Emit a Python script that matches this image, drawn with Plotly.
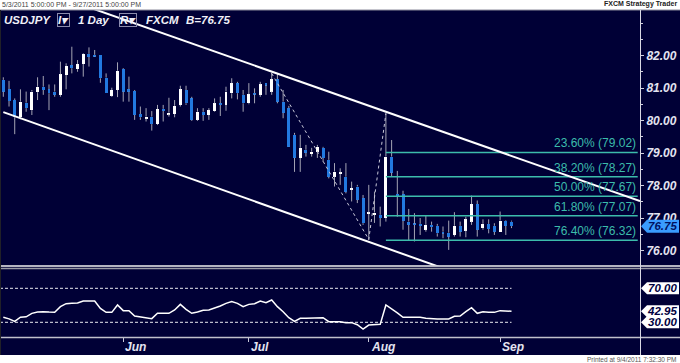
import plotly.graph_objects as go

W, H = 680, 363

# ---------------- data ----------------
opens = [81.25, 80.96, 80.63, 80.10, 80.55, 80.32, 80.87, 81.04, 80.96, 80.89,
         80.79, 81.40, 81.70, 81.58, 81.74, 82.05, 82.02, 82.02, 81.32, 80.76,
         80.94, 81.58, 80.96, 80.91, 80.20, 80.06, 80.12, 79.89, 80.36, 80.20,
         80.20, 80.48, 80.94, 80.68, 80.02, 80.27, 80.17, 80.29, 80.53, 80.48,
         80.84, 81.15, 80.79, 80.53, 80.84, 80.79, 81.15, 80.89, 81.27, 80.58,
         80.38, 79.56, 78.85, 79.10, 78.97, 79.03, 79.16, 78.79, 78.27, 78.36,
         78.27, 77.87, 77.97, 77.61, 77.13, 77.10, 77.10, 77.00, 78.89, 77.74,
         77.73, 76.89, 76.82, 76.82, 76.64, 76.79, 76.76, 76.58, 76.55, 76.48,
         76.76, 76.61, 76.89, 77.43, 76.69, 76.82, 76.76, 76.58, 76.92, 76.89]
highs = [81.33, 81.22, 80.68, 80.96, 80.89, 80.94, 81.33, 81.37, 81.11, 81.11,
         81.81, 81.76, 82.27, 81.86, 82.07, 82.25, 82.17, 82.02, 81.45, 81.01,
         81.79, 81.61, 81.35, 80.94, 80.43, 80.38, 80.29, 80.48, 80.48, 80.70,
         80.63, 81.07, 81.07, 80.73, 80.38, 80.38, 80.38, 80.68, 80.73, 81.04,
         81.30, 81.19, 80.94, 81.15, 80.99, 81.19, 81.15, 81.47, 81.43, 80.94,
         80.45, 79.62, 79.56, 79.25, 79.16, 79.25, 79.19, 79.04, 78.69, 78.53,
         78.69, 78.12, 78.02, 77.71, 78.02, 77.81, 77.35, 80.22, 79.40, 78.45,
         77.84, 77.28, 77.15, 77.00, 77.07, 76.89, 76.82, 76.74, 76.92, 77.18,
         76.89, 77.04, 77.69, 77.54, 76.96, 76.96, 76.84, 77.20, 76.94, 76.92]
lows = [80.73, 80.43, 79.58, 80.04, 80.27, 80.17, 80.63, 80.79, 80.32, 80.73,
        80.73, 80.96, 81.45, 81.50, 81.35, 81.66, 81.96, 81.16, 80.84, 80.73,
        80.72, 80.58, 80.58, 80.02, 80.02, 79.97, 79.69, 79.86, 79.97, 80.12,
        80.10, 80.43, 80.48, 79.99, 79.99, 79.99, 80.02, 80.27, 80.14, 80.30,
        80.68, 80.65, 80.27, 80.50, 80.53, 80.73, 80.79, 80.79, 80.53, 80.07,
        79.19, 78.42, 78.42, 78.89, 78.89, 78.85, 78.73, 78.22, 77.97, 78.02,
        77.76, 77.51, 77.46, 76.79, 76.33, 76.85, 76.74, 76.89, 78.27, 77.04,
        76.64, 76.30, 76.28, 76.48, 76.58, 76.58, 76.43, 76.38, 76.02, 76.43,
        76.43, 76.41, 76.79, 76.43, 76.64, 76.53, 76.48, 76.58, 76.48, 76.69]
closes = [80.89, 80.60, 80.10, 80.58, 80.38, 80.89, 81.04, 80.94, 80.84, 80.79,
          81.42, 81.68, 81.61, 81.74, 82.05, 81.96, 81.98, 81.30, 80.84, 80.94,
          81.53, 80.89, 80.89, 80.17, 80.10, 80.12, 79.89, 80.35, 80.30, 80.24,
          80.45, 80.96, 80.53, 80.02, 80.27, 80.17, 80.32, 80.53, 80.48, 80.89,
          81.15, 80.84, 80.53, 80.81, 80.81, 81.11, 81.09, 81.27, 80.58, 80.24,
          79.20, 78.85, 79.16, 79.01, 79.04, 79.19, 78.85, 78.27, 78.43, 78.40,
          77.81, 77.92, 77.56, 76.84, 77.17, 77.17, 77.00, 78.89, 78.40, 77.68,
          76.92, 76.79, 76.79, 76.76, 76.79, 76.72, 76.53, 76.53, 76.43, 76.76,
          76.58, 76.96, 77.43, 76.64, 76.82, 76.66, 76.58, 76.92, 76.76, 76.75]
rsi = [36, 34, 31, 36, 36.5, 40.5, 42, 42.5, 42, 41.7,
       48.4, 51.9, 52.3, 52.7, 55.1, 55.1, 55.1, 46.4, 41.7, 41.7,
       50.4, 43.7, 43.7, 37.4, 36.2, 35.4, 34.3, 40.6, 40.6, 40.6,
       44.5, 51.1, 45.3, 40.6, 42.1, 44.1, 44.5, 46.4, 49.2, 52.3,
       54.3, 52.3, 48.4, 51.1, 51.9, 55.1, 53.1, 56.2, 48.4, 42.5,
       35.4, 31.1, 34.7, 34.7, 34.7, 34.7, 35.4, 30.7, 30.7, 30.7,
       29.6, 29.6, 27.2, 22.1, 26.8, 27.2, 27.6, 50.4, 46.0, 41.0,
       35.8, 35.8, 35.8, 35.8, 34.7, 33.9, 33.9, 33.9, 33.9, 37.0,
       37.4, 42.5, 47.2, 40.6, 42.5, 41.7, 41.7, 43.7, 43.7, 42.95]

month_labels = ["Jun", "Jul", "Aug", "Sep"]
month_idx = [21, 43, 64, 87]          # trading-day index of 1st session of month
price_ticks = [76, 77, 78, 79, 80, 81, 82]
fib_pct = ["23.60%", "38.20%", "50.00%", "61.80%", "76.40%"]
fib_levels = [79.02, 78.27, 77.67, 77.07, 76.32]
fib_start_idx = 67
zigzag_idx = [47, 64, 67]
zigzag_price = [81.45, 76.34, 80.22]
upper_trend_idx = [0, 111.5]
upper_trend_price = [84.41, 77.52]
lower_trend_idx = [0, 80]
lower_trend_price = [80.26, 75.27]
rsi_levels = [70, 30]
last_price = 76.75
last_rsi = rsi[-1]

# ---------------- style ----------------
NAVY = "#000036"
BLUE = "#2279e0"
WICK = "#a4a4b4"
TEAL = "#3cbcab"
AXTXT = "#e4e4f0"
FONT = "Liberation Sans, Arial, sans-serif"

def fx(px):
    return px / W

def fy(py):
    return 1 - py / H

xr = [-0.58, 111.5]
yr = [75.54, 83.40]
y2r = [12.7, 93.3]
ydom = [fy(265.5), fy(10)]
y2dom = [fy(337), fy(268.5)]
xdom = [0, fx(640)]
ppu_y = (265.5 - 10) / (yr[1] - yr[0])
ppu_y2 = (337 - 268.5) / (y2r[1] - y2r[0])

n = len(opens)
idx = list(range(n))

fig = go.Figure()

# wicks (upper and lower segments)
wx, wy = [], []
for i in idx:
    top = max(opens[i], closes[i])
    bot = min(opens[i], closes[i])
    wx += [i, i, None, i, i, None]
    wy += [highs[i], top, None, bot, lows[i], None]
fig.add_trace(go.Scatter(x=wx, y=wy, mode="lines", line=dict(color=WICK, width=1),
                         hoverinfo="skip", xaxis="x", yaxis="y"))

# bodies
bases = [min(o, c) for o, c in zip(opens, closes)]
hts = [max(abs(c - o), 0.04) for o, c in zip(opens, closes)]
cols = [BLUE if c < o else "#ffffff" for o, c in zip(opens, closes)]
fig.add_trace(go.Bar(x=idx, y=hts, base=bases, width=0.52, marker=dict(color=cols, line=dict(width=0)),
                     xaxis="x", yaxis="y"))

# fibonacci lines
for lvl in fib_levels:
    fig.add_trace(go.Scatter(x=[fib_start_idx, xr[1] - 0.4], y=[lvl, lvl], mode="lines",
                             line=dict(color=TEAL, width=1.5), xaxis="x", yaxis="y"))

# zigzag dashed
fig.add_trace(go.Scatter(x=zigzag_idx, y=zigzag_price, mode="lines",
                         line=dict(color="#c8c8d8", width=1, dash="3px,3px"), xaxis="x", yaxis="y"))

# trend lines
fig.add_trace(go.Scatter(x=upper_trend_idx, y=upper_trend_price, mode="lines",
                         line=dict(color="#ffffff", width=2), xaxis="x", yaxis="y"))
fig.add_trace(go.Scatter(x=lower_trend_idx, y=lower_trend_price, mode="lines",
                         line=dict(color="#ffffff", width=2), xaxis="x", yaxis="y"))

# RSI levels
for lv in rsi_levels:
    fig.add_trace(go.Scatter(x=[xr[0], n - 1], y=[lv, lv], mode="lines",
                             line=dict(color="#e8e8f0", width=1, dash="3px,2px"), xaxis="x2", yaxis="y2"))
fig.add_trace(go.Scatter(x=idx, y=rsi, mode="lines", line=dict(color="#ffffff", width=1.5),
                         xaxis="x2", yaxis="y2"))

shapes = []
# navy background band
shapes.append(dict(type="rect", xref="paper", yref="paper", x0=0, x1=1, y0=fy(355), y1=fy(10),
                   fillcolor=NAVY, line=dict(width=0), layer="below"))
# separators
for py, col, w in [(10, "#8a8a9a", 1), (266, "#f0f0f0", 1.6), (268.5, "#9a9aa6", 1.4), (337.5, "#c0c0cc", 1.4)]:
    shapes.append(dict(type="line", xref="paper", yref="paper", x0=0, x1=1, y0=fy(py), y1=fy(py),
                       line=dict(color=col, width=w)))
shapes.append(dict(type="line", xref="paper", yref="paper", x0=fx(640.5), x1=fx(640.5), y0=fy(355), y1=fy(10),
                   line=dict(color="#d8d8e4", width=1)))
shapes.append(dict(type="line", xref="paper", yref="paper", x0=fx(0.5), x1=fx(0.5), y0=fy(355), y1=fy(10),
                   line=dict(color="#202028", width=1)))

def tag_path(v, hh, yref, fill):
    p = (f"M {fx(641)},{v} L {fx(647)},{v + hh} L {fx(679)},{v + hh} "
         f"L {fx(679)},{v - hh} L {fx(647)},{v - hh} Z")
    return dict(type="path", xref="paper", yref=yref, path=p, fillcolor=fill, line=dict(width=0))

shapes.append(tag_path(last_price, 6.5 / ppu_y, "y", "#3a9cff"))
for v in rsi_levels + [last_rsi]:
    shapes.append(tag_path(v, 6 / ppu_y2, "y2", "#ffffff"))

ann = []
bi = dict(family=FONT, size=12, weight="bold", style="italic")
bi_s = dict(family=FONT, size=11.5, weight="bold", style="italic")

for pct, lvl in zip(fib_pct, fib_levels):
    ann.append(dict(text=f"{pct} ({lvl:.2f})", x=fx(637.5), xref="paper", xanchor="right",
                    y=lvl, yref="y", yanchor="bottom", yshift=0, showarrow=False,
                    font=dict(family=FONT, size=12, color=TEAL)))

ann.append(dict(text=f"{last_price:.2f}", x=fx(678), xref="paper", xanchor="right", y=last_price, yref="y",
                yanchor="middle", showarrow=False, borderpad=0, font=dict(bi_s, color="#001060")))
for v in rsi_levels + [last_rsi]:
    ann.append(dict(text=f"{v:.2f}", x=fx(678), xref="paper", xanchor="right", y=v, yref="y2",
                    yanchor="middle", showarrow=False, borderpad=0, font=dict(bi_s, color="#000040")))

for lab, mi in zip(month_labels, month_idx):
    ann.append(dict(text=lab, x=mi, xref="x2", xanchor="left", xshift=0, y=fy(347), yref="paper",
                    yanchor="middle", showarrow=False, font=dict(bi, color=AXTXT)))

# header inside chart
for txt, px, boxed in [("USDJPY", 3, False), ("I▾", 57, True), ("1 Day", 77, False),
                       ("R▾", 119, True), ("FXCM", 145, False), ("B=76.75", 185, False)]:
    a = dict(text=txt, x=fx(px), xref="paper", xanchor="left", y=fy(20), yref="paper", yanchor="middle",
             showarrow=False, font=dict(bi_s, color="#f0f0f8"))
    if boxed:
        a.update(bordercolor="#8c8cac", borderwidth=1, borderpad=0)
    else:
        a.update(borderpad=0)
    ann.append(a)

ann.append(dict(text="5/3/2011 5:00:00 PM - 9/27/2011 5:00:00 PM", x=0, xref="paper", xanchor="left",
                y=fy(4.5), yref="paper", yanchor="middle", showarrow=False,
                font=dict(family=FONT, size=7, color="#444444")))
ann.append(dict(text="<b>FXCM Strategy Trader</b>", x=fx(679), xref="paper", xanchor="right",
                y=fy(4.5), yref="paper", yanchor="middle", showarrow=False,
                font=dict(family=FONT, size=7, color="#222222")))
ann.append(dict(text="Printed at 9/4/2011 7:32:30 PM", x=fx(679), xref="paper", xanchor="right",
                y=fy(359.5), yref="paper", yanchor="middle", showarrow=False,
                font=dict(family=FONT, size=6.5, color="#555555")))

fig.update_layout(
    width=W, height=H, margin=dict(l=0, r=0, t=0, b=0),
    paper_bgcolor="#ffffff", plot_bgcolor=NAVY, showlegend=False,
    shapes=shapes, annotations=ann, bargap=0,
    xaxis=dict(domain=xdom, range=xr, anchor="y", showticklabels=False, showgrid=False,
               zeroline=False, ticks="", showline=False),
    xaxis2=dict(domain=xdom, range=xr, anchor="y2", matches="x", tickvals=month_idx, ticks="outside",
                ticklen=4, tickwidth=1, tickcolor="#c8c8d8", showticklabels=False, showgrid=False,
                zeroline=False, showline=False),
    yaxis=dict(domain=ydom, range=yr, side="right", anchor="x", tickvals=price_ticks,
               ticktext=[f"{t:.2f}" for t in price_ticks], ticks="outside", ticklen=3, tickwidth=1,
               tickcolor="#d0d0dc", showgrid=False, zeroline=False, showline=False,
               tickfont=dict(bi, color=AXTXT),
               minor=dict(dtick=0.5, tick0=0, ticks="outside", ticklen=2, tickcolor="#d0d0dc")),
    yaxis2=dict(domain=y2dom, range=y2r, side="right", anchor="x2", showticklabels=False, ticks="",
                showgrid=False, zeroline=False, showline=False),
)

fig.write_html(
    "out.html",
    config={"displayModeBar": False},
    post_script="document.body.style.margin='0';document.body.style.padding='0';"
                "document.body.style.overflow='hidden';",
)
